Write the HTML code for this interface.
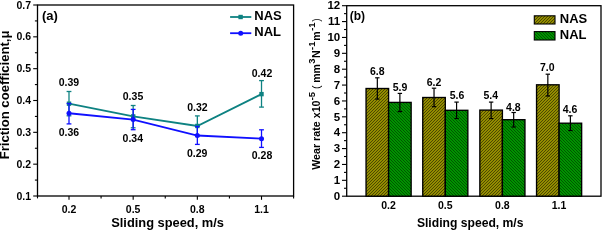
<!DOCTYPE html>
<html><head><meta charset="utf-8"><style>
html,body{margin:0;padding:0;background:#fff;width:602px;height:230px;overflow:hidden}
svg{display:block;will-change:transform;font-family:"Liberation Sans", sans-serif}
</style></head><body>
<svg width="602" height="230" viewBox="0 0 602 230">
<rect x="37.5" y="5.0" width="256.1" height="191.0" fill="none" stroke="#000" stroke-width="1.3"/>
<line x1="33.2" y1="196.00" x2="37.5" y2="196.00" stroke="#000" stroke-width="1.1"/>
<text x="31.0" y="199.60" text-anchor="end" font-size="10.5" font-weight="bold">0.1</text>
<line x1="34.9" y1="180.08" x2="37.5" y2="180.08" stroke="#000" stroke-width="1.1"/>
<line x1="33.2" y1="164.17" x2="37.5" y2="164.17" stroke="#000" stroke-width="1.1"/>
<text x="31.0" y="167.77" text-anchor="end" font-size="10.5" font-weight="bold">0.2</text>
<line x1="34.9" y1="148.25" x2="37.5" y2="148.25" stroke="#000" stroke-width="1.1"/>
<line x1="33.2" y1="132.33" x2="37.5" y2="132.33" stroke="#000" stroke-width="1.1"/>
<text x="31.0" y="135.93" text-anchor="end" font-size="10.5" font-weight="bold">0.3</text>
<line x1="34.9" y1="116.42" x2="37.5" y2="116.42" stroke="#000" stroke-width="1.1"/>
<line x1="33.2" y1="100.50" x2="37.5" y2="100.50" stroke="#000" stroke-width="1.1"/>
<text x="31.0" y="104.10" text-anchor="end" font-size="10.5" font-weight="bold">0.4</text>
<line x1="34.9" y1="84.58" x2="37.5" y2="84.58" stroke="#000" stroke-width="1.1"/>
<line x1="33.2" y1="68.67" x2="37.5" y2="68.67" stroke="#000" stroke-width="1.1"/>
<text x="31.0" y="72.27" text-anchor="end" font-size="10.5" font-weight="bold">0.5</text>
<line x1="34.9" y1="52.75" x2="37.5" y2="52.75" stroke="#000" stroke-width="1.1"/>
<line x1="33.2" y1="36.83" x2="37.5" y2="36.83" stroke="#000" stroke-width="1.1"/>
<text x="31.0" y="40.43" text-anchor="end" font-size="10.5" font-weight="bold">0.6</text>
<line x1="34.9" y1="20.92" x2="37.5" y2="20.92" stroke="#000" stroke-width="1.1"/>
<line x1="33.2" y1="5.00" x2="37.5" y2="5.00" stroke="#000" stroke-width="1.1"/>
<text x="31.0" y="8.60" text-anchor="end" font-size="10.5" font-weight="bold">0.7</text>
<line x1="37.50" y1="196.0" x2="37.50" y2="198.4" stroke="#000" stroke-width="1.1"/>
<line x1="69.00" y1="196.0" x2="69.00" y2="199.8" stroke="#000" stroke-width="1.1"/>
<text x="69.00" y="212.7" text-anchor="middle" font-size="10.5" font-weight="bold">0.2</text>
<line x1="101.08" y1="196.0" x2="101.08" y2="198.4" stroke="#000" stroke-width="1.1"/>
<line x1="133.17" y1="196.0" x2="133.17" y2="199.8" stroke="#000" stroke-width="1.1"/>
<text x="133.17" y="212.7" text-anchor="middle" font-size="10.5" font-weight="bold">0.5</text>
<line x1="165.25" y1="196.0" x2="165.25" y2="198.4" stroke="#000" stroke-width="1.1"/>
<line x1="197.34" y1="196.0" x2="197.34" y2="199.8" stroke="#000" stroke-width="1.1"/>
<text x="197.34" y="212.7" text-anchor="middle" font-size="10.5" font-weight="bold">0.8</text>
<line x1="229.43" y1="196.0" x2="229.43" y2="198.4" stroke="#000" stroke-width="1.1"/>
<line x1="261.51" y1="196.0" x2="261.51" y2="199.8" stroke="#000" stroke-width="1.1"/>
<text x="261.51" y="212.7" text-anchor="middle" font-size="10.5" font-weight="bold">1.1</text>
<line x1="293.60" y1="196.0" x2="293.60" y2="198.4" stroke="#000" stroke-width="1.1"/>
<text x="111.2" y="226.9" font-size="12.85" font-weight="bold">Sliding speed, m/s</text>
<text transform="translate(9.4,159.3) rotate(-90)" font-size="13.1" font-weight="bold">Friction coefficient,μ</text>
<text x="42.0" y="19.5" font-size="13" font-weight="bold">(a)</text>
<polyline points="69.00,103.68 133.17,116.42 197.34,125.97 261.51,94.13" fill="none" stroke="#0e8282" stroke-width="1.8"/>
<line x1="69.00" y1="91.5" x2="69.00" y2="115.8" stroke="#0e8282" stroke-width="1.3"/>
<line x1="66.60" y1="91.5" x2="71.40" y2="91.5" stroke="#0e8282" stroke-width="1.3"/>
<line x1="66.60" y1="115.8" x2="71.40" y2="115.8" stroke="#0e8282" stroke-width="1.3"/>
<line x1="133.17" y1="105.5" x2="133.17" y2="127.8" stroke="#0e8282" stroke-width="1.3"/>
<line x1="130.77" y1="105.5" x2="135.57" y2="105.5" stroke="#0e8282" stroke-width="1.3"/>
<line x1="130.77" y1="127.8" x2="135.57" y2="127.8" stroke="#0e8282" stroke-width="1.3"/>
<line x1="197.34" y1="115.9" x2="197.34" y2="135.9" stroke="#0e8282" stroke-width="1.3"/>
<line x1="194.94" y1="115.9" x2="199.74" y2="115.9" stroke="#0e8282" stroke-width="1.3"/>
<line x1="194.94" y1="135.9" x2="199.74" y2="135.9" stroke="#0e8282" stroke-width="1.3"/>
<line x1="261.51" y1="80.6" x2="261.51" y2="107.1" stroke="#0e8282" stroke-width="1.3"/>
<line x1="259.11" y1="80.6" x2="263.91" y2="80.6" stroke="#0e8282" stroke-width="1.3"/>
<line x1="259.11" y1="107.1" x2="263.91" y2="107.1" stroke="#0e8282" stroke-width="1.3"/>
<rect x="66.80" y="101.48" width="4.4" height="4.4" fill="#0e8282"/>
<rect x="130.97" y="114.22" width="4.4" height="4.4" fill="#0e8282"/>
<rect x="195.14" y="123.77" width="4.4" height="4.4" fill="#0e8282"/>
<rect x="259.31" y="91.93" width="4.4" height="4.4" fill="#0e8282"/>
<polyline points="69.00,113.23 133.17,119.60 197.34,135.52 261.51,138.70" fill="none" stroke="#1010ff" stroke-width="1.8"/>
<line x1="69.00" y1="103.5" x2="69.00" y2="123.9" stroke="#1010ff" stroke-width="1.3"/>
<line x1="66.60" y1="103.5" x2="71.40" y2="103.5" stroke="#1010ff" stroke-width="1.3"/>
<line x1="66.60" y1="123.9" x2="71.40" y2="123.9" stroke="#1010ff" stroke-width="1.3"/>
<line x1="133.17" y1="109.4" x2="133.17" y2="129.7" stroke="#1010ff" stroke-width="1.3"/>
<line x1="130.77" y1="109.4" x2="135.57" y2="109.4" stroke="#1010ff" stroke-width="1.3"/>
<line x1="130.77" y1="129.7" x2="135.57" y2="129.7" stroke="#1010ff" stroke-width="1.3"/>
<line x1="197.34" y1="126.5" x2="197.34" y2="144.4" stroke="#1010ff" stroke-width="1.3"/>
<line x1="194.94" y1="126.5" x2="199.74" y2="126.5" stroke="#1010ff" stroke-width="1.3"/>
<line x1="194.94" y1="144.4" x2="199.74" y2="144.4" stroke="#1010ff" stroke-width="1.3"/>
<line x1="261.51" y1="129.8" x2="261.51" y2="147.4" stroke="#1010ff" stroke-width="1.3"/>
<line x1="259.11" y1="129.8" x2="263.91" y2="129.8" stroke="#1010ff" stroke-width="1.3"/>
<line x1="259.11" y1="147.4" x2="263.91" y2="147.4" stroke="#1010ff" stroke-width="1.3"/>
<circle cx="69.00" cy="113.23" r="2.5" fill="#1010ff"/>
<circle cx="133.17" cy="119.60" r="2.5" fill="#1010ff"/>
<circle cx="197.34" cy="135.52" r="2.5" fill="#1010ff"/>
<circle cx="261.51" cy="138.70" r="2.5" fill="#1010ff"/>
<text x="68.9" y="85.9" text-anchor="middle" font-size="10.5" font-weight="bold">0.39</text>
<text x="133.0" y="99.8" text-anchor="middle" font-size="10.5" font-weight="bold">0.35</text>
<text x="197.4" y="111.1" text-anchor="middle" font-size="10.5" font-weight="bold">0.32</text>
<text x="262.0" y="76.7" text-anchor="middle" font-size="10.5" font-weight="bold">0.42</text>
<text x="68.9" y="135.8" text-anchor="middle" font-size="10.5" font-weight="bold">0.36</text>
<text x="132.8" y="141.5" text-anchor="middle" font-size="10.5" font-weight="bold">0.34</text>
<text x="197.2" y="156.9" text-anchor="middle" font-size="10.5" font-weight="bold">0.29</text>
<text x="262.0" y="159.3" text-anchor="middle" font-size="10.5" font-weight="bold">0.28</text>
<line x1="230.1" y1="17" x2="251.3" y2="17" stroke="#0e8282" stroke-width="1.8"/>
<rect x="238.4" y="14.8" width="4.4" height="4.4" fill="#0e8282"/>
<text x="254.3" y="19.9" font-size="13" font-weight="bold">NAS</text>
<line x1="230.1" y1="33.2" x2="251.3" y2="33.2" stroke="#1010ff" stroke-width="1.8"/>
<circle cx="240.7" cy="33.3" r="2.5" fill="#1010ff"/>
<text x="254.3" y="36.3" font-size="13" font-weight="bold">NAL</text>
<rect x="346.7" y="5.7" width="254.3" height="190.5" fill="none" stroke="#000" stroke-width="1.3"/>
<line x1="342.0" y1="196.20" x2="346.7" y2="196.20" stroke="#000" stroke-width="1.1"/>
<text x="340.2" y="199.90" text-anchor="end" font-size="11.5" font-weight="bold">0</text>
<line x1="344.0" y1="188.26" x2="346.7" y2="188.26" stroke="#000" stroke-width="1.1"/>
<line x1="342.0" y1="180.32" x2="346.7" y2="180.32" stroke="#000" stroke-width="1.1"/>
<text x="340.2" y="184.02" text-anchor="end" font-size="11.5" font-weight="bold">1</text>
<line x1="344.0" y1="172.39" x2="346.7" y2="172.39" stroke="#000" stroke-width="1.1"/>
<line x1="342.0" y1="164.45" x2="346.7" y2="164.45" stroke="#000" stroke-width="1.1"/>
<text x="340.2" y="168.15" text-anchor="end" font-size="11.5" font-weight="bold">2</text>
<line x1="344.0" y1="156.51" x2="346.7" y2="156.51" stroke="#000" stroke-width="1.1"/>
<line x1="342.0" y1="148.57" x2="346.7" y2="148.57" stroke="#000" stroke-width="1.1"/>
<text x="340.2" y="152.27" text-anchor="end" font-size="11.5" font-weight="bold">3</text>
<line x1="344.0" y1="140.64" x2="346.7" y2="140.64" stroke="#000" stroke-width="1.1"/>
<line x1="342.0" y1="132.70" x2="346.7" y2="132.70" stroke="#000" stroke-width="1.1"/>
<text x="340.2" y="136.40" text-anchor="end" font-size="11.5" font-weight="bold">4</text>
<line x1="344.0" y1="124.76" x2="346.7" y2="124.76" stroke="#000" stroke-width="1.1"/>
<line x1="342.0" y1="116.82" x2="346.7" y2="116.82" stroke="#000" stroke-width="1.1"/>
<text x="340.2" y="120.52" text-anchor="end" font-size="11.5" font-weight="bold">5</text>
<line x1="344.0" y1="108.89" x2="346.7" y2="108.89" stroke="#000" stroke-width="1.1"/>
<line x1="342.0" y1="100.95" x2="346.7" y2="100.95" stroke="#000" stroke-width="1.1"/>
<text x="340.2" y="104.65" text-anchor="end" font-size="11.5" font-weight="bold">6</text>
<line x1="344.0" y1="93.01" x2="346.7" y2="93.01" stroke="#000" stroke-width="1.1"/>
<line x1="342.0" y1="85.07" x2="346.7" y2="85.07" stroke="#000" stroke-width="1.1"/>
<text x="340.2" y="88.77" text-anchor="end" font-size="11.5" font-weight="bold">7</text>
<line x1="344.0" y1="77.14" x2="346.7" y2="77.14" stroke="#000" stroke-width="1.1"/>
<line x1="342.0" y1="69.20" x2="346.7" y2="69.20" stroke="#000" stroke-width="1.1"/>
<text x="340.2" y="72.90" text-anchor="end" font-size="11.5" font-weight="bold">8</text>
<line x1="344.0" y1="61.26" x2="346.7" y2="61.26" stroke="#000" stroke-width="1.1"/>
<line x1="342.0" y1="53.32" x2="346.7" y2="53.32" stroke="#000" stroke-width="1.1"/>
<text x="340.2" y="57.02" text-anchor="end" font-size="11.5" font-weight="bold">9</text>
<line x1="344.0" y1="45.39" x2="346.7" y2="45.39" stroke="#000" stroke-width="1.1"/>
<line x1="342.0" y1="37.45" x2="346.7" y2="37.45" stroke="#000" stroke-width="1.1"/>
<text x="340.2" y="41.15" text-anchor="end" font-size="11.5" font-weight="bold">10</text>
<line x1="344.0" y1="29.51" x2="346.7" y2="29.51" stroke="#000" stroke-width="1.1"/>
<line x1="342.0" y1="21.57" x2="346.7" y2="21.57" stroke="#000" stroke-width="1.1"/>
<text x="340.2" y="25.27" text-anchor="end" font-size="11.5" font-weight="bold">11</text>
<line x1="344.0" y1="13.64" x2="346.7" y2="13.64" stroke="#000" stroke-width="1.1"/>
<line x1="342.0" y1="5.70" x2="346.7" y2="5.70" stroke="#000" stroke-width="1.1"/>
<text x="340.2" y="9.40" text-anchor="end" font-size="11.5" font-weight="bold">12</text>
<defs><pattern id="hy" patternUnits="userSpaceOnUse" width="3" height="3"><rect width="3" height="3" fill="#b2ab00"/><path d="M-1,1 L1,-1 M-1,4 L4,-1 M2,4 L4,2" stroke="#464200" stroke-width="1.1"/></pattern><pattern id="hg" patternUnits="userSpaceOnUse" width="3" height="3"><rect width="3" height="3" fill="#00ac00"/><path d="M-1,-1 L4,4 M2,-1 L4,1 M-1,2 L1,4" stroke="#005200" stroke-width="1.1"/></pattern></defs>
<rect x="366.05" y="88.5" width="22.55" height="107.70" fill="url(#hy)" stroke="#000" stroke-width="1.35"/>
<rect x="388.60" y="102.4" width="22.55" height="93.80" fill="url(#hg)" stroke="#000" stroke-width="1.35"/>
<line x1="377.33" y1="77.8" x2="377.33" y2="99.1" stroke="#000" stroke-width="1.2"/>
<line x1="375.13" y1="77.8" x2="379.53" y2="77.8" stroke="#000" stroke-width="1.2"/>
<line x1="375.13" y1="99.1" x2="379.53" y2="99.1" stroke="#000" stroke-width="1.2"/>
<line x1="399.88" y1="93.4" x2="399.88" y2="111.6" stroke="#000" stroke-width="1.2"/>
<line x1="397.68" y1="93.4" x2="402.07" y2="93.4" stroke="#000" stroke-width="1.2"/>
<line x1="397.68" y1="111.6" x2="402.07" y2="111.6" stroke="#000" stroke-width="1.2"/>
<rect x="422.75" y="97.5" width="22.55" height="98.70" fill="url(#hy)" stroke="#000" stroke-width="1.35"/>
<rect x="445.30" y="110.3" width="22.55" height="85.90" fill="url(#hg)" stroke="#000" stroke-width="1.35"/>
<line x1="434.03" y1="88.2" x2="434.03" y2="106.7" stroke="#000" stroke-width="1.2"/>
<line x1="431.83" y1="88.2" x2="436.23" y2="88.2" stroke="#000" stroke-width="1.2"/>
<line x1="431.83" y1="106.7" x2="436.23" y2="106.7" stroke="#000" stroke-width="1.2"/>
<line x1="456.57" y1="102.1" x2="456.57" y2="118.5" stroke="#000" stroke-width="1.2"/>
<line x1="454.38" y1="102.1" x2="458.77" y2="102.1" stroke="#000" stroke-width="1.2"/>
<line x1="454.38" y1="118.5" x2="458.77" y2="118.5" stroke="#000" stroke-width="1.2"/>
<rect x="479.85" y="110.1" width="22.55" height="86.10" fill="url(#hy)" stroke="#000" stroke-width="1.35"/>
<rect x="502.40" y="119.7" width="22.55" height="76.50" fill="url(#hg)" stroke="#000" stroke-width="1.35"/>
<line x1="491.12" y1="102.1" x2="491.12" y2="118.6" stroke="#000" stroke-width="1.2"/>
<line x1="488.93" y1="102.1" x2="493.32" y2="102.1" stroke="#000" stroke-width="1.2"/>
<line x1="488.93" y1="118.6" x2="493.32" y2="118.6" stroke="#000" stroke-width="1.2"/>
<line x1="513.67" y1="112.5" x2="513.67" y2="127.0" stroke="#000" stroke-width="1.2"/>
<line x1="511.47" y1="112.5" x2="515.88" y2="112.5" stroke="#000" stroke-width="1.2"/>
<line x1="511.47" y1="127.0" x2="515.88" y2="127.0" stroke="#000" stroke-width="1.2"/>
<rect x="536.55" y="84.8" width="22.55" height="111.40" fill="url(#hy)" stroke="#000" stroke-width="1.35"/>
<rect x="559.10" y="123.2" width="22.55" height="73.00" fill="url(#hg)" stroke="#000" stroke-width="1.35"/>
<line x1="547.83" y1="74.2" x2="547.83" y2="96.0" stroke="#000" stroke-width="1.2"/>
<line x1="545.62" y1="74.2" x2="550.03" y2="74.2" stroke="#000" stroke-width="1.2"/>
<line x1="545.62" y1="96.0" x2="550.03" y2="96.0" stroke="#000" stroke-width="1.2"/>
<line x1="570.38" y1="115.8" x2="570.38" y2="130.5" stroke="#000" stroke-width="1.2"/>
<line x1="568.17" y1="115.8" x2="572.58" y2="115.8" stroke="#000" stroke-width="1.2"/>
<line x1="568.17" y1="130.5" x2="572.58" y2="130.5" stroke="#000" stroke-width="1.2"/>
<text x="388.60" y="209.3" text-anchor="middle" font-size="10.5" font-weight="bold">0.2</text>
<text x="445.30" y="209.3" text-anchor="middle" font-size="10.5" font-weight="bold">0.5</text>
<text x="502.40" y="209.3" text-anchor="middle" font-size="10.5" font-weight="bold">0.8</text>
<text x="559.10" y="209.3" text-anchor="middle" font-size="10.5" font-weight="bold">1.1</text>
<text x="377.3" y="75.2" text-anchor="middle" font-size="10.5" font-weight="bold">6.8</text>
<text x="400.0" y="90.7" text-anchor="middle" font-size="10.5" font-weight="bold">5.9</text>
<text x="434.0" y="86.0" text-anchor="middle" font-size="10.5" font-weight="bold">6.2</text>
<text x="457.0" y="99.4" text-anchor="middle" font-size="10.5" font-weight="bold">5.6</text>
<text x="490.7" y="99.3" text-anchor="middle" font-size="10.5" font-weight="bold">5.4</text>
<text x="513.4" y="110.6" text-anchor="middle" font-size="10.5" font-weight="bold">4.8</text>
<text x="547.3" y="70.6" text-anchor="middle" font-size="10.5" font-weight="bold">7.0</text>
<text x="570.0" y="113.2" text-anchor="middle" font-size="10.5" font-weight="bold">4.6</text>
<text x="416.9" y="226.9" font-size="12.15" font-weight="bold">Sliding speed, m/s</text>
<text x="349.8" y="19.6" font-size="12" font-weight="bold">(b)</text>
<rect x="534.3" y="15.8" width="20.7" height="8.2" fill="url(#hy)" stroke="#000" stroke-width="1.1"/>
<rect x="534.3" y="31.6" width="20.7" height="8.4" fill="url(#hg)" stroke="#000" stroke-width="1.1"/>
<text x="559.8" y="22.8" font-size="13" font-weight="bold">NAS</text>
<text x="559.8" y="38.7" font-size="13" font-weight="bold">NAL</text>
<text transform="translate(320.2,169.80) rotate(-90)" y="0" font-size="10.7" font-weight="bold">Wear rate x10</text>
<text transform="translate(320.2,100.30) rotate(-90)" y="-5.3" font-size="9.5" font-weight="bold">-5</text>
<text transform="translate(320.2,89.03) rotate(-90)" y="0" font-size="10.5" font-weight="normal">(</text>
<text transform="translate(320.2,82.83) rotate(-90)" y="0" font-size="10.5" font-weight="bold">mm</text>
<text transform="translate(320.2,63.69) rotate(-90)" y="-5.3" font-size="9.5" font-weight="bold">3</text>
<text transform="translate(320.2,58.04) rotate(-90)" y="0" font-size="10.7" font-weight="bold">N</text>
<text transform="translate(320.2,49.90) rotate(-90)" y="-5.3" font-size="9.5" font-weight="bold">-1</text>
<text transform="translate(320.2,40.63) rotate(-90)" y="0" font-size="10.5" font-weight="bold">m</text>
<text transform="translate(320.2,30.80) rotate(-90)" y="-5.3" font-size="9.5" font-weight="bold">-1</text>
<text transform="translate(320.2,21.80) rotate(-90)" y="0" font-size="10.5" font-weight="normal">)</text>
</svg>
</body></html>
